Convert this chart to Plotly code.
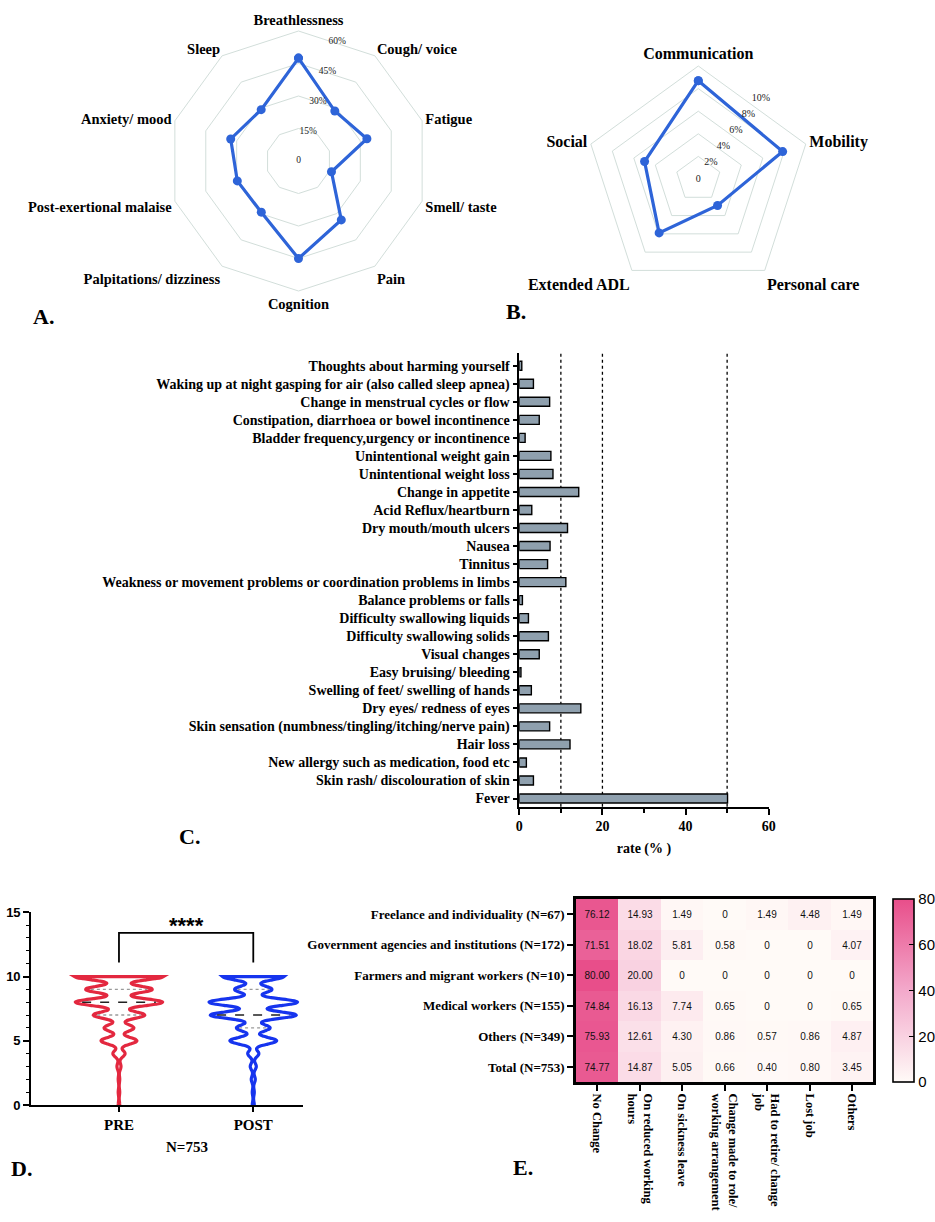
import numpy as np
import plotly.graph_objects as go

SERIF = "Liberation Serif"
SANS = "Liberation Sans"
W, H = 935, 1222

# ---------------- Panel A data ----------------
a_categories = ["Breathlessness", "Cough/ voice", "Fatigue", "Smell/ taste", "Pain",
                "Cognition", "Palpitations/ dizziness", "Post-exertional malaise",
                "Anxiety/ mood", "Sleep"]
a_values = [47.5, 28.5, 33.2, 16.0, 33.6, 45.0, 29.2, 29.7, 32.9, 29.3]
a_tickvals = [0, 15, 30, 45, 60]
a_ticktext = ["0", "15%", "30%", "45%", "60%"]

# ---------------- Panel B data ----------------
b_categories = ["Communication", "Mobility", "Personal care", "Extended ADL", "Social"]
b_values = [8.7, 7.85, 2.9, 5.9, 5.0]
b_tickvals = [0, 2, 4, 6, 8, 10]
b_ticktext = ["0", "2%", "4%", "6%", "8%", "10%"]

# ---------------- Panel C data ----------------
c_categories = [
    "Thoughts about harming yourself",
    "Waking up at night gasping for air (also called sleep apnea)",
    "Change in menstrual cycles or flow",
    "Constipation, diarrhoea or bowel incontinence",
    "Bladder frequency,urgency or incontinence",
    "Unintentional weight gain",
    "Unintentional weight loss",
    "Change in appetite",
    "Acid Reflux/heartburn",
    "Dry mouth/mouth ulcers",
    "Nausea",
    "Tinnitus",
    "Weakness or movement problems or coordination problems in limbs",
    "Balance problems or falls",
    "Difficulty swallowing liquids",
    "Difficulty swallowing solids",
    "Visual changes",
    "Easy bruising/ bleeding",
    "Swelling of feet/ swelling of hands",
    "Dry eyes/ redness of eyes",
    "Skin sensation (numbness/tingling/itching/nerve pain)",
    "Hair loss",
    "New allergy such as medication, food etc",
    "Skin rash/ discolouration of skin",
    "Fever",
]
c_values = [0.6, 3.4, 7.3, 4.8, 1.4, 7.6, 8.1, 14.3, 3.0, 11.6, 7.4, 6.8, 11.2,
            0.75, 2.2, 7.0, 4.8, 0.4, 2.9, 14.8, 7.3, 12.2, 1.7, 3.4, 50.1]
c_reflines = [10, 20, 50]

# ---------------- Panel D data ----------------
d_scores = list(range(11))
d_pre_counts = [3, 3, 3, 8, 24, 71, 59, 102, 173, 132, 175]
d_post_counts = [4, 4, 8, 12, 22, 93, 67, 171, 176, 74, 122]
d_groups = ["PRE", "POST"]
d_bracket_low, d_bracket_high = 11.1, 13.4

# ---------------- Panel E data ----------------
e_rows = ["Freelance and individuality (N=67)",
          "Government agencies and institutions (N=172)",
          "Farmers and migrant workers (N=10)",
          "Medical workers (N=155)",
          "Others (N=349)",
          "Total (N=753)"]
e_cols = ["No Change", "On reduced working<br>hours", "On sickness leave",
          "Change made to role/<br>working arrangement", "Had to retire/ change<br>job",
          "Lost job", "Others"]
e_text = [
    ["76.12", "14.93", "1.49", "0", "1.49", "4.48", "1.49"],
    ["71.51", "18.02", "5.81", "0.58", "0", "0", "4.07"],
    ["80.00", "20.00", "0", "0", "0", "0", "0"],
    ["74.84", "16.13", "7.74", "0.65", "0", "0", "0.65"],
    ["75.93", "12.61", "4.30", "0.86", "0.57", "0.86", "4.87"],
    ["74.77", "14.87", "5.05", "0.66", "0.40", "0.80", "3.45"],
]
e_values = [[float(v) for v in row] for row in e_text]


def px(x):
    return x / W


def py(y):
    return 1 - y / H


fig = go.Figure()

BLUE = "#2E64D8"
# ---------- A: radar ----------
fig.add_trace(go.Scatterpolar(
    r=a_values + a_values[:1], theta=a_categories + a_categories[:1],
    mode="lines+markers", line=dict(color=BLUE, width=3.2),
    marker=dict(size=9, color=BLUE), subplot="polar", showlegend=False))

# ---------- B: radar ----------
fig.add_trace(go.Scatterpolar(
    r=b_values + b_values[:1], theta=b_categories + b_categories[:1],
    mode="lines+markers", line=dict(color=BLUE, width=3.2),
    marker=dict(size=9, color=BLUE), subplot="polar2", showlegend=False))

# radial tick labels, laid along the edge between the first two spokes (overlay polars)
A_LABEL_THETA, A_LABEL_SCALE = 18, 0.965
B_LABEL_THETA, B_LABEL_SCALE = 38, 0.9
fig.add_trace(go.Scatterpolar(
    r=a_tickvals, theta=[A_LABEL_THETA] * len(a_tickvals), text=a_ticktext,
    mode="text", textposition="middle center",
    textfont=dict(family=SERIF, size=9.5, color="#222"),
    subplot="polar3", showlegend=False, hoverinfo="skip"))
fig.add_trace(go.Scatterpolar(
    r=b_tickvals, theta=[B_LABEL_THETA] * len(b_tickvals), text=b_ticktext,
    mode="text", textposition="middle center",
    textfont=dict(family=SERIF, size=10, color="#222"),
    subplot="polar4", showlegend=False, hoverinfo="skip"))

GRID = "#D2DEDA"


def polar_cfg(domx, domy, rng, tv, lblsize):
    return dict(
        domain=dict(x=domx, y=domy),
        gridshape="linear",
        bgcolor="white",
        radialaxis=dict(range=rng, tickvals=tv, showline=False, showticklabels=False,
                        ticks="", gridcolor=GRID, gridwidth=1),
        angularaxis=dict(direction="clockwise", rotation=90, showgrid=False,
                         linecolor=GRID, linewidth=1, ticks="",
                         tickfont=dict(family=SERIF, size=lblsize, color="black", weight="bold")),
    )


def overlay_cfg(domx, domy, rmax):
    return dict(
        domain=dict(x=domx, y=domy), bgcolor="rgba(0,0,0,0)",
        radialaxis=dict(range=[0, rmax], visible=False),
        angularaxis=dict(direction="clockwise", rotation=90, visible=False),
    )


# ---------- C: bar chart ----------
fig.add_trace(go.Bar(
    x=c_values, y=c_categories, orientation="h", width=0.5,
    marker=dict(color="#8FA0AE", line=dict(color="black", width=1.4)),
    xaxis="x", yaxis="y", showlegend=False))

# ---------- D: violins ----------
BW = 0.26
VW = 0.66
colors_d = ["#E3283F", "#1634EE"]
counts_d = [d_pre_counts, d_post_counts]
for i, (grp, cnt, col) in enumerate(zip(d_groups, counts_d, colors_d)):
    samples = np.repeat(d_scores, cnt)
    fig.add_trace(go.Violin(
        y=samples, x0=i, width=VW, bandwidth=BW, spanmode="hard", scalemode="width",
        fillcolor="white", line=dict(color=col, width=3.2), points=False,
        box=dict(visible=False), meanline=dict(visible=False), hoverinfo="skip",
        xaxis="x2", yaxis="y2", showlegend=False, name=grp))
    grid = np.linspace(0, 10, 401)
    sc = np.array(d_scores, dtype=float)
    cn = np.array(cnt, dtype=float)

    def dens(g):
        g = np.atleast_1d(g)
        return (cn[None, :] * np.exp(-0.5 * ((g[:, None] - sc[None, :]) / BW) ** 2)).sum(1)

    maxd = dens(grid).max()
    q1, med, q3 = np.percentile(samples, [25, 50, 75])
    for q, dash, lc in [(q1, "dot", "#9A9A9A"), (med, "dash", "#222222"), (q3, "dot", "#9A9A9A")]:
        hw = VW / 2 * dens(q)[0] / maxd * 0.84
        fig.add_trace(go.Scatter(x=[i - hw, i + hw], y=[q, q], mode="lines",
                                 line=dict(color=lc, width=1.4, dash=dash),
                                 xaxis="x2", yaxis="y2", showlegend=False, hoverinfo="skip"))

# bracket
fig.add_trace(go.Scatter(x=[0, 0, 1, 1], y=[d_bracket_low, d_bracket_high, d_bracket_high, d_bracket_low],
                         mode="lines", line=dict(color="black", width=1.8),
                         xaxis="x2", yaxis="y2", showlegend=False, hoverinfo="skip"))

# ---------- E: heatmap ----------
fig.add_trace(go.Heatmap(
    z=e_values, x=e_cols, y=e_rows, text=e_text, texttemplate="%{text}",
    textfont=dict(family=SANS, size=10, color="#111"),
    zmin=0, zmax=80, colorscale=[[0, "#FFFAF7"], [0.5, "#F3A9CB"], [1, "#E84E8A"]],
    xaxis="x3", yaxis="y3", hoverinfo="skip",
    colorbar=dict(x=px(893.3), xanchor="left", xpad=0, ypad=0, y=py(899), yanchor="top",
                  len=183, lenmode="pixels", thickness=21, outlinewidth=1.6,
                  outlinecolor="black", tickvals=[0, 20, 40, 60, 80], ticks="inside",
                  ticklen=5, tickcolor="black",
                  tickfont=dict(family=SANS, size=15, color="black"))))

axis_common = dict(showline=True, linecolor="black", linewidth=1.6, showgrid=False,
                   zeroline=False, ticks="outside", tickcolor="black", tickwidth=1.5,
                   automargin=False)

shapes = []
for v in c_reflines:
    shapes.append(dict(type="line", xref="x", yref="y domain", x0=v, x1=v, y0=0, y1=1,
                       line=dict(color="black", width=1.3, dash="dot"), layer="below"))


def label(text, x, y, size=22, family=SERIF):
    return dict(text=text, x=px(x), y=py(y), xref="paper", yref="paper", showarrow=False,
                xanchor="center", yanchor="middle",
                font=dict(family=family, size=size, color="black"))


annotations = [
    label("<b>A.</b>", 43, 316),
    label("<b>B.</b>", 516, 312),
    label("<b>C.</b>", 189, 836),
    label("<b>D.</b>", 21, 1168),
    label("<b>E.</b>", 523, 1167),
    label("<b>N=753</b>", 187, 1147, size=15),
    dict(text="<b>****</b>", x=0.5, y=d_bracket_high, xref="x2", yref="y2", showarrow=False,
         xanchor="center", yanchor="bottom", yshift=-7,
         font=dict(family=SANS, size=22, color="black")),
]

A_DOMX, A_DOMY = [px(168.5), px(428.5)], [py(291), py(31)]
B_DOMX, B_DOMY = [px(585.3), px(811.3)], [py(292), py(66)]

fig.update_layout(
    width=W, height=H, margin=dict(l=0, r=0, t=0, b=0, autoexpand=False),
    paper_bgcolor="white", plot_bgcolor="white", showlegend=False,
    polar=polar_cfg(A_DOMX, A_DOMY, [0, 60], a_tickvals, 14.5),
    polar2=polar_cfg(B_DOMX, B_DOMY, [0, 10], b_tickvals, 16),
    polar3=overlay_cfg(A_DOMX, A_DOMY, 60 / A_LABEL_SCALE),
    polar4=overlay_cfg(B_DOMX, B_DOMY, 10 / B_LABEL_SCALE),
    xaxis=dict(domain=[px(519.3), px(768.7)], range=[0, 60], anchor="y",
               tickvals=[0, 20, 40, 60], ticklen=6,
               minor=dict(tickvals=[10, 30, 50], ticks="outside", ticklen=4,
                          tickcolor="black", tickwidth=1.5),
               tickfont=dict(family=SERIF, size=14, color="black", weight="bold"),
               title=dict(text="<b>rate (% )</b>", standoff=10,
                          font=dict(family=SERIF, size=14, color="black")),
               **axis_common),
    yaxis=dict(domain=[py(806.7), py(353.3)], anchor="x", type="category",
               categoryorder="array", categoryarray=c_categories,
               range=[24.455, -0.69], ticklen=5,
               tickfont=dict(family=SERIF, size=14, color="black", weight="bold"),
               **axis_common),
    xaxis2=dict(domain=[px(31), px(302.7)], range=[-0.655, 1.368], anchor="y2",
                tickvals=[0, 1], ticktext=d_groups, ticklen=5,
                tickfont=dict(family=SERIF, size=15, color="black", weight="bold"),
                **axis_common),
    yaxis2=dict(domain=[py(1105), py(912.3)], range=[0, 15], anchor="x2",
                tickvals=[0, 5, 10, 15], ticklen=6,
                minor=dict(dtick=1, ticks="outside", ticklen=3.5, tickcolor="black", tickwidth=1.3),
                tickfont=dict(family=SANS, size=13, color="black", weight="bold"),
                **axis_common),
    xaxis3=dict(domain=[px(576), px(873.3)], anchor="y3", type="category",
                showline=True, mirror=True, linecolor="black", linewidth=2.5,
                ticks="outside", ticklen=6, tickwidth=2, tickcolor="black",
                tickangle=90, showgrid=False, zeroline=False, automargin=False,
                tickfont=dict(family=SERIF, size=12.5, color="black", weight="bold")),
    yaxis3=dict(domain=[py(1082.3), py(899)], anchor="x3", type="category",
                autorange="reversed", showline=True, mirror=True, linecolor="black",
                linewidth=2.5, ticks="outside", ticklen=6, tickwidth=2, tickcolor="black",
                showgrid=False, zeroline=False, automargin=False,
                tickfont=dict(family=SERIF, size=13, color="black", weight="bold")),
    shapes=shapes,
    annotations=annotations,
)

fig.write_html("out.html", config={"displayModeBar": False},
               post_script="document.body.style.margin='0';document.body.style.overflow='hidden';")
